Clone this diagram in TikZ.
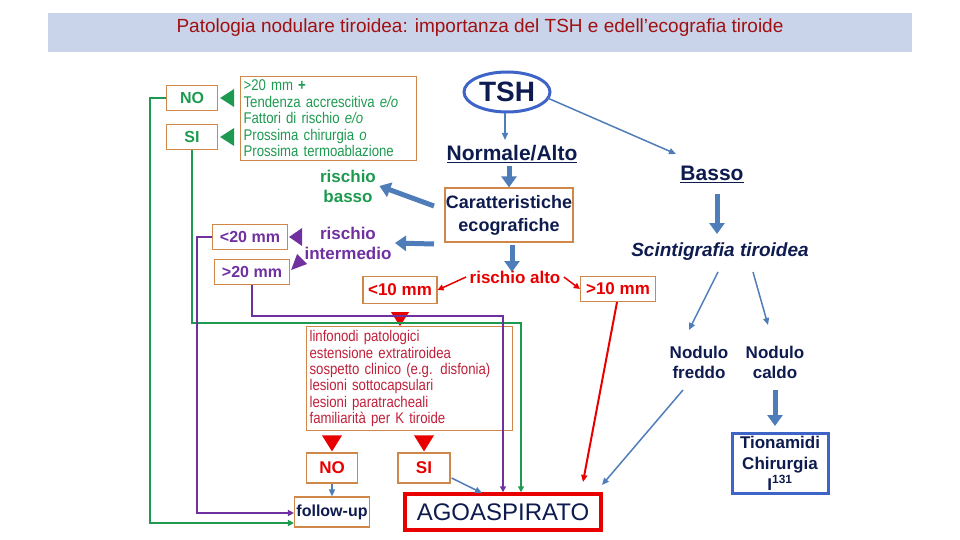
\documentclass[tikz,border=0pt]{standalone}
\usepackage{fontspec}
\setmainfont{Liberation Sans}
\newfontfamily\narrowf{Liberation Sans}[FakeStretch=0.85]
\usetikzlibrary{arrows.meta,shapes.geometric}
\definecolor{gr}{HTML}{1E9A50}
\definecolor{pu}{HTML}{7030A0}
\definecolor{orb}{HTML}{D0884A}
\definecolor{bl}{HTML}{4F7DBA}
\definecolor{nv}{HTML}{0D1B4F}
\definecolor{rd}{HTML}{E80000}
\definecolor{tred}{HTML}{C0203A}
\definecolor{ttl}{HTML}{A01010}
\definecolor{band}{HTML}{C9D3EA}
\begin{document}
\begin{tikzpicture}[x=1pt,y=-1pt,
 box/.style={draw=orb,line width=1.2pt,inner sep=0pt},
 thin/.style={-{Triangle[width=6pt,length=7pt]},line width=1.5pt},
 fat/.style={-{Triangle[width=15pt,length=11pt]},line width=5pt,bl},
 lbl/.style={font=\bfseries\fontsize{17}{20}\selectfont,align=center}]
\useasboundingbox (0,0) rectangle (960,540);
\fill[band] (48,13) rectangle (912,52);
\node[text=ttl,font=\fontsize{19}{22}\selectfont] (title) at (480,28) {Patologia nodulare tiroidea: importanza del TSH e edell’ecografia tiroide};
% left top
\node[box,minimum width=51pt,minimum height=25pt,text=gr,font=\bfseries\fontsize{16}{18}\selectfont] (no1) at (192,98) {NO};
\node[box,minimum width=51pt,minimum height=25pt,text=gr,font=\bfseries\fontsize{16}{18}\selectfont] (si1) at (192,137) {SI};
\node[box,minimum width=164pt,minimum height=84pt,text=gr,align=left,font=\narrowf\fontsize{15.5}{16.5}\selectfont,anchor=north west,inner sep=3pt,text width=170pt] (crit) at (240,76) {>20 mm \textbf{+}\\Tendenza accrescitiva \textit{e/o}\\Fattori di rischio \textit{e/o}\\Prossima chirurgia \textit{o}\\Prossima termoablazione};
\fill[gr] (no1.east) ++(2,0) -- ++(14,-9) -- ++(0,18) -- cycle;
\fill[gr] (si1.east) ++(2,0) -- ++(14,-9) -- ++(0,18) -- cycle;
% TSH
\node[draw=bl!80!blue,line width=3pt,ellipse,minimum width=86pt,minimum height=40pt,inner sep=0pt,text=nv,font=\bfseries\fontsize{28}{30}\selectfont] (tsh) at (507,92) {TSH};
\node[text=nv,font=\bfseries\fontsize{21}{24}\selectfont] (norm) at (512,154) {\underline{Normale/Alto}};
\node[text=nv,font=\bfseries\fontsize{21}{24}\selectfont] (basso) at (712,174) {\underline{Basso}};
\draw[thin,bl] (tsh.south) ++(-2,0) -- (505,140);
\draw[thin,bl] (tsh.east) ++(-4,6) -- (676,154);
\node[box,minimum width=128pt,minimum height=54pt,text=nv,lbl,font=\bfseries\fontsize{18}{23}\selectfont] (car) at (509,215) {Caratteristiche\\ecografiche};
\draw[fat] (norm.south) ++(-3,0) -- (car.north -| 509,0);
\node[lbl,text=gr] (rb) at (348,186) {rischio\\basso};
\node[lbl,text=pu] (ri) at (348,243) {rischio\\intermedio};
\draw[fat] (434,206) -- (rb.east);
\draw[fat] (434,244) -- (ri.east);
\node[box,minimum width=75pt,minimum height=25pt,text=pu,font=\bfseries\fontsize{16}{18}\selectfont] (l20) at (250,237) {<20 mm};
\node[box,minimum width=75pt,minimum height=25pt,text=pu,font=\bfseries\fontsize{16}{18}\selectfont] (g20) at (252,272) {>20 mm};
\fill[pu] (l20.east) ++(1,0) -- ++(13,-9) -- ++(0,18) -- cycle;
\fill[pu] (g20.east) ++(1,-2) -- ++(6,-16) -- ++(10,10) -- cycle;
\draw[fat] (car.south) ++(3,2) -- (512,272);
\node[lbl,text=rd] (ra) at (515,277) {rischio alto};
\node[box,minimum width=74pt,minimum height=27pt,text=rd,font=\bfseries\fontsize{17}{18}\selectfont] (l10) at (400,290) {<10 mm};
\node[box,minimum width=75pt,minimum height=25pt,text=rd,font=\bfseries\fontsize{17}{18}\selectfont] (g10) at (618,289) {>10 mm};
\draw[-{Triangle[width=6pt,length=6pt]},rd,line width=1.5pt] (ra.west) -- (l10.east);
\draw[-{Triangle[width=6pt,length=6pt]},rd,line width=1.5pt] (ra.east) -- (g10.west);
% linfonodi
\node[box,anchor=north west,minimum width=190pt,minimum height=104pt,text=tred,align=left,inner sep=3pt,text width=200pt,font=\narrowf\fontsize{15.5}{16.4}\selectfont] (lin) at (306,326) {linfonodi patologici\\estensione extratiroidea\\sospetto clinico (e.g. disfonia)\\lesioni sottocapsulari\\lesioni paratracheali\\familiarità per K tiroide};
\fill[rd] (l10.south) ++(0,22) -- ++(-9,-14) -- ++(18,0) -- cycle;
\node[box,minimum width=51pt,minimum height=30pt,text=rd,font=\bfseries\fontsize{17}{18}\selectfont] (no2) at (332,468) {NO};
\node[box,minimum width=52pt,minimum height=30pt,text=rd,font=\bfseries\fontsize{17}{18}\selectfont] (si2) at (424,468) {SI};
\fill[rd] (no2.north) ++(0,-1) -- ++(-10,-16) -- ++(20,0) -- cycle;
\fill[rd] (si2.north) ++(0,-1) -- ++(-10,-16) -- ++(20,0) -- cycle;
\node[box,minimum width=75pt,minimum height=30pt,text=nv,font=\bfseries\fontsize{16}{18}\selectfont] (fu) at (332,512) {follow-up};
\node[draw=rd,line width=3.5pt,minimum width=196pt,minimum height=36pt,inner sep=0pt,text=nv,font=\fontsize{24}{26}\selectfont] (ago) at (503,512) {AGOASPIRATO};
\draw[thin,bl] (no2.south) -- (fu.north);
\draw[thin,bl] (si2.east) ++(1,10) -- (482,493);
% right
\draw[fat] (basso.south) ++(5,8) -- (717,234);
\node[text=nv,font=\bfseries\itshape\fontsize{19}{20}\selectfont] (sci) at (720,252) {Scintigrafia tiroidea};
\node[lbl,text=nv] (nf) at (699,362) {Nodulo\\freddo};
\node[lbl,text=nv] (nc) at (775,362) {Nodulo\\caldo};
\draw[thin,bl] (718,272) -- (689,330);
\draw[thin,bl] (753,272) -- (768,325);
\draw[fat] (nc.south) ++(0,8) -- (775,426);
\node[draw=bl!80!blue,line width=3pt,minimum width=96pt,minimum height=60pt,inner sep=0pt,text=nv,align=center,font=\bfseries\fontsize{17}{21}\selectfont] (tio) at (780,463) {Tionamidi\\Chirurgia\\I\textsuperscript{131}};
\draw[thin,bl] (683,390) -- (602,485);
\draw[-{Triangle[width=6pt,length=7pt]},rd,line width=2pt] (g10.south) ++(-1,0) -- (583,482);
% connectors
\draw[gr,line width=1.5pt,-{Triangle[width=6pt,length=6pt]}] (no1.west) -- (150,98) -- (150,523) -- (fu.west |- 0,523);
\draw[gr,line width=1.5pt,-{Triangle[width=6pt,length=6pt]}] (si1.south) -- (192,323) -- (521,323) -- (ago.north -| 521,0);
\draw[pu,line width=2pt,-{Triangle[width=6pt,length=6pt]}] (l20.west) -- (197,237) -- (197,513) -- (fu.west |- 0,513);
\draw[pu,line width=2pt,-{Triangle[width=6pt,length=6pt]}] (g20.south) -- (252,316) -- (503,316) -- (ago.north -| 503,0);
\end{tikzpicture}
\end{document}
